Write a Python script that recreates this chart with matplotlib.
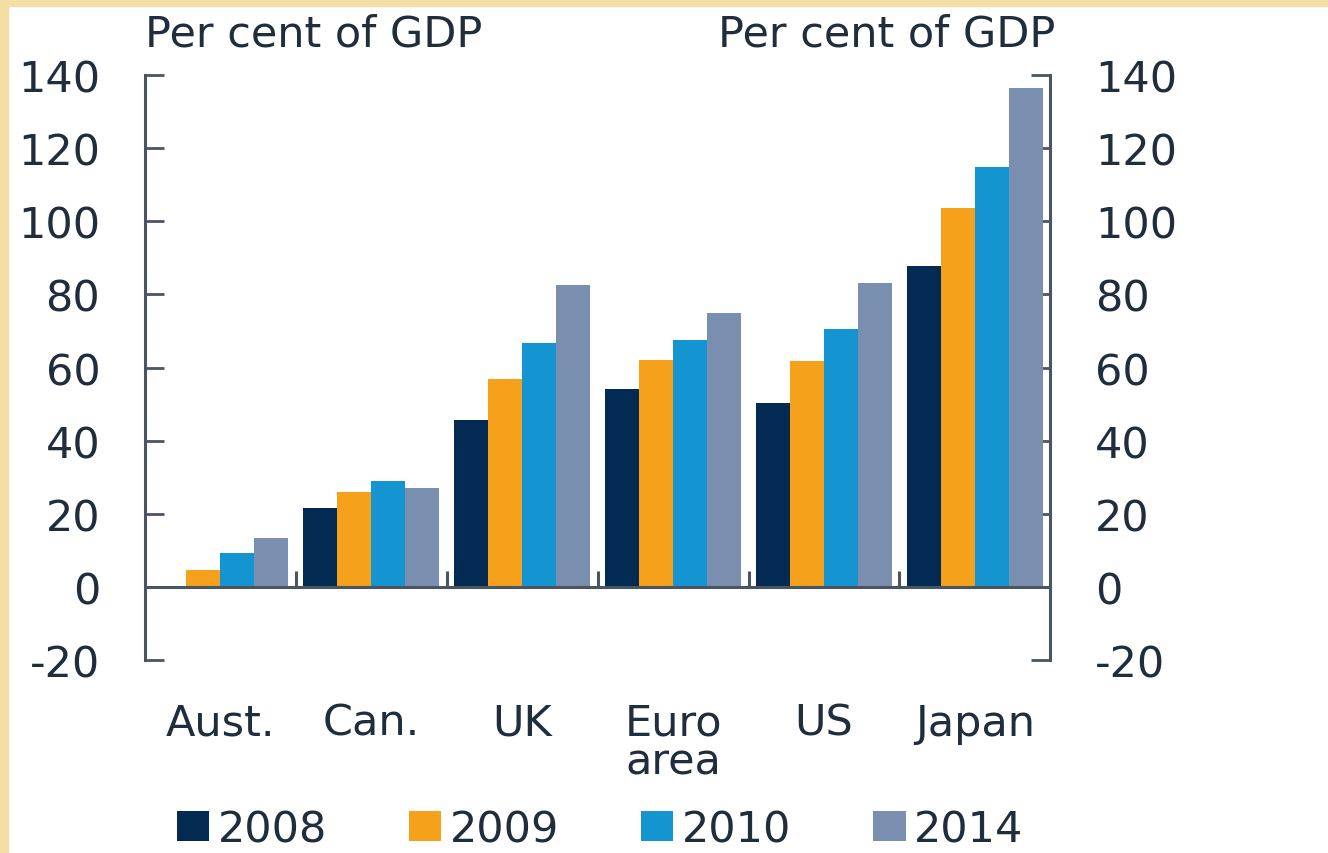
import matplotlib.pyplot as plt
import numpy as np
from matplotlib.patches import Rectangle

# Données
countries = ["Aust.", "Can.", "UK", "Euro\narea", "US", "Japan"]
years = ["2008", "2009", "2010", "2014"]
v2008 = [-0.3, 21.6, 45.7, 54.1, 50.3, 87.8]
v2009 = [4.6, 26.0, 56.9, 62.0, 61.8, 103.6]
v2010 = [9.3, 29.0, 66.7, 67.5, 70.5, 114.8]
v2014 = [13.4, 27.0, 82.6, 75.0, 83.1, 136.4]
series = [v2008, v2009, v2010, v2014]
colors = ["#032a52", "#f5a11c", "#1594d2", "#7a8fb0"]
yticks = [-20, 0, 20, 40, 60, 80, 100, 120, 140]

txt = "#1f2d3d"
axc = "#4a5562"
fs = 31

plt.rcParams['font.family'] = ['DejaVu Sans']
plt.rcParams['axes.unicode_minus'] = False

fig = plt.figure(figsize=(13.28, 8.54), dpi=100)
fig.patch.set_facecolor("white")
# bordure jaune pâle
fig.patches.append(Rectangle((0, 0), 8 / 1328, 1, transform=fig.transFigure,
                             color="#f3dfa5", zorder=0))
fig.patches.append(Rectangle((0, 1 - 7 / 854), 1, 7 / 854, transform=fig.transFigure,
                             color="#f3dfa5", zorder=0))

ax = fig.add_axes([0.109, 0.226, 0.682, 0.685])
x = np.arange(len(countries))
w = 0.225
for i, (vals, c, yr) in enumerate(zip(series, colors, years)):
    ax.bar(x + (i - 1.5) * w, vals, width=w, color=c, label=yr, zorder=2)

ax.set_xlim(-0.5, len(countries) - 0.5)
ax.set_ylim(-20, 140)

# ligne zéro + séparateurs
ax.axhline(0, color=axc, lw=2.2, zorder=3)
for s in x[:-1] + 0.5:
    ax.plot([s, s], [0, 4.4], color=axc, lw=2.2, zorder=3, solid_capstyle="butt")

for side in ["top", "bottom"]:
    ax.spines[side].set_visible(False)
for side in ["left", "right"]:
    ax.spines[side].set_color(axc)
    ax.spines[side].set_linewidth(2.2)

ax.set_yticks(yticks)
ax.tick_params(axis="y", direction="in", length=14, width=2, color=axc,
               labelsize=fs, labelcolor=txt, pad=32, left=True, right=True,
               labelleft=True, labelright=True)
ax.set_xticks(x)
ax.set_xticklabels(countries, fontsize=fs, color=txt, linespacing=0.9, va="top")
ax.tick_params(axis="x", length=0, pad=30)

ax.text(0.0, 1.035, "Per cent of GDP", transform=ax.transAxes, ha="left",
        va="bottom", fontsize=fs, color=txt)
ax.text(1.005, 1.035, "Per cent of GDP", transform=ax.transAxes, ha="right",
        va="bottom", fontsize=fs, color=txt)

fig.legend(loc="center", bbox_to_anchor=(0.452, 0.028), ncol=4, frameon=False,
           fontsize=fs, labelcolor=txt, handlelength=0.75, handleheight=0.7,
           handletextpad=0.2, columnspacing=1.9, borderaxespad=0)

fig.savefig("out.png", dpi=100)
